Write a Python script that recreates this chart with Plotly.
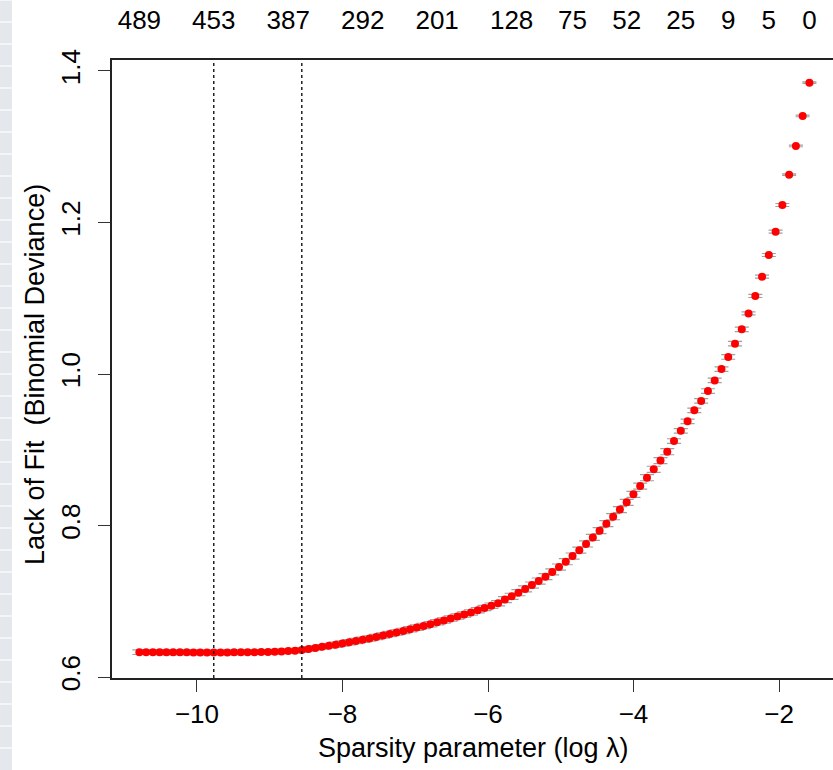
import plotly.graph_objects as go

# Cross-validated binomial deviance along the lasso path (glmnet style plot)
log_lambda = [
    -1.582, -1.675, -1.768, -1.861, -1.954, -2.047, -2.140, -2.233, -2.326, -2.419,
    -2.512, -2.605, -2.698, -2.791, -2.884, -2.977, -3.070, -3.164, -3.257, -3.350,
    -3.443, -3.536, -3.629, -3.722, -3.815, -3.908, -4.001, -4.094, -4.187, -4.280,
    -4.373, -4.466, -4.559, -4.652, -4.745, -4.838, -4.931, -5.024, -5.117, -5.210,
    -5.303, -5.396, -5.489, -5.582, -5.675, -5.768, -5.861, -5.954, -6.047, -6.140,
    -6.234, -6.327, -6.420, -6.513, -6.606, -6.699, -6.792, -6.885, -6.978, -7.071,
    -7.164, -7.257, -7.350, -7.443, -7.536, -7.629, -7.722, -7.815, -7.908, -8.001,
    -8.094, -8.187, -8.280, -8.373, -8.466, -8.559, -8.652, -8.745, -8.838, -8.931,
    -9.024, -9.117, -9.210, -9.304, -9.397, -9.490, -9.583, -9.676, -9.769, -9.862,
    -9.955, -10.048, -10.141, -10.234, -10.327, -10.420, -10.513, -10.606, -10.699, -10.792,
]

cv_deviance = [
    1.3846, 1.3406, 1.3010, 1.2631, 1.2231, 1.1879, 1.1571, 1.1285, 1.1030, 1.0800,
    1.0590, 1.0400, 1.0225, 1.0065, 0.9915, 0.9775, 0.9645, 0.9520, 0.9375, 0.9250,
    0.9115, 0.8974, 0.8857, 0.8742, 0.8631, 0.8520, 0.8411, 0.8306, 0.8210, 0.8116,
    0.8024, 0.7932, 0.7843, 0.7756, 0.7675, 0.7597, 0.7522, 0.7452, 0.7387, 0.7325,
    0.7267, 0.7214, 0.7163, 0.7113, 0.7066, 0.7022, 0.6973, 0.6942, 0.6912, 0.6882,
    0.6853, 0.6825, 0.6798, 0.6772, 0.6747, 0.6722, 0.6698, 0.6675, 0.6652, 0.6630,
    0.6609, 0.6588, 0.6568, 0.6548, 0.6529, 0.6510, 0.6492, 0.6475, 0.6458, 0.6442,
    0.6427, 0.6412, 0.6398, 0.6384, 0.6371, 0.6355, 0.6348, 0.6342, 0.6337, 0.6334,
    0.6331, 0.6329, 0.6328, 0.6327, 0.6326, 0.6326, 0.6325, 0.6325, 0.6324, 0.6325,
    0.6325, 0.6325, 0.6326, 0.6326, 0.6326, 0.6326, 0.6326, 0.6327, 0.6327, 0.6327,
]

cv_se = [0.0010] * 4 + [0.0020] * 6 + [0.0030] * 11 + [0.0040] * 25 + [0.0035] * 25 + [0.0030] * 29

lambda_min_log = -9.769
lambda_1se_log = -8.559

# number of non-zero coefficients shown along the top axis
nzero_index = [99, 88, 77, 66, 55, 44, 35, 27, 19, 12, 6, 0]
nzero_labels = ["489", "453", "387", "292", "201", "128", "75", "52", "25", "9", "5", "0"]

x_ticks = [-10, -8, -6, -4, -2]
x_ticktext = ["\u221210", "\u22128", "\u22126", "\u22124", "\u22122"]
y_ticks = [0.6, 0.8, 1.0, 1.2, 1.4]
y_ticktext = ["0.6", "0.8", "1.0", "1.2", "1.4"]

FONT = "Liberation Sans, Arial, Helvetica, sans-serif"
W, H = 833, 770
L, R, T, B = 112, 0, 60, 92
plot_w = W - L - R
plot_h = H - T - B

fig = go.Figure()

fig.add_trace(go.Scatter(
    x=log_lambda, y=cv_deviance, mode="markers",
    marker=dict(color="#ff0000", size=8, line=dict(width=0)),
    error_y=dict(type="data", array=cv_se, color="#a0a0a0", thickness=1.2, width=7),
    hoverinfo="x+y", showlegend=False,
))

# carrier trace for the top axis
fig.add_trace(go.Scatter(
    x=log_lambda, y=cv_deviance, xaxis="x2", mode="markers",
    marker=dict(opacity=0), hoverinfo="skip", showlegend=False,
))

x_range = [-11.168, -1.258]
y_range = [0.5987, 1.4145]

fig.update_layout(
    width=W, height=H,
    margin=dict(l=L, r=R, t=T, b=B),
    paper_bgcolor="white", plot_bgcolor="white",
    font=dict(family=FONT, color="black", size=26),
    xaxis=dict(
        range=x_range, tickvals=x_ticks, ticktext=x_ticktext,
        ticks="outside", ticklen=12, tickwidth=1.3, tickcolor="#333",
        showline=True, linecolor="#222", linewidth=1.5, mirror=True,
        showgrid=False, zeroline=False,
        tickfont=dict(size=26, family=FONT), ticklabelstandoff=0,
    ),
    xaxis2=dict(
        range=x_range, overlaying="x", side="top",
        tickvals=[log_lambda[i] for i in nzero_index], ticktext=nzero_labels,
        ticks="", showline=False, showgrid=False, zeroline=False,
        tickfont=dict(size=26, family=FONT), ticklabelstandoff=25,
    ),
    yaxis=dict(
        range=y_range, tickvals=y_ticks, ticktext=y_ticktext, tickangle=-90,
        ticks="outside", ticklen=12, tickwidth=1.3, tickcolor="#333",
        showline=True, linecolor="#222", linewidth=1.5, mirror=False,
        showgrid=False, zeroline=False,
        tickfont=dict(size=26, family=FONT), ticklabelstandoff=8,
    ),
)

# lambda.min and lambda.1se markers
for xv in (lambda_min_log, lambda_1se_log):
    fig.add_shape(type="line", x0=xv, x1=xv, y0=0, y1=1, xref="x", yref="paper",
                  line=dict(color="black", width=1.3, dash="dot"), layer="above")

# axis titles
fig.add_annotation(text="Sparsity parameter (log \u03bb)", xref="paper", yref="paper",
                   x=(473 - L) / plot_w, y=(H - B - 748) / plot_h,
                   showarrow=False, font=dict(size=27, family=FONT),
                   xanchor="center", yanchor="middle")
fig.add_annotation(text="Lack of Fit  (Binomial Deviance)", xref="paper", yref="paper",
                   x=(35 - L) / plot_w, y=(H - B - 375) / plot_h, textangle=-90,
                   showarrow=False, font=dict(size=27, family=FONT),
                   xanchor="center", yanchor="middle")

# light patterned strip along the left page edge
def px_x(p):
    return (p - L) / plot_w

def px_y(p):
    return (H - B - p) / plot_h

fig.add_shape(type="rect", xref="paper", yref="paper",
              x0=px_x(0), x1=px_x(12), y0=px_y(H), y1=px_y(0),
              fillcolor="#e4e7eb", line=dict(width=0), layer="below")
for yy in range(0, H, 22):
    fig.add_shape(type="line", xref="paper", yref="paper",
                  x0=px_x(0), x1=px_x(12), y0=px_y(yy), y1=px_y(yy),
                  line=dict(color="#f4f5f7", width=2), layer="below")

fig.write_html("out.html")
